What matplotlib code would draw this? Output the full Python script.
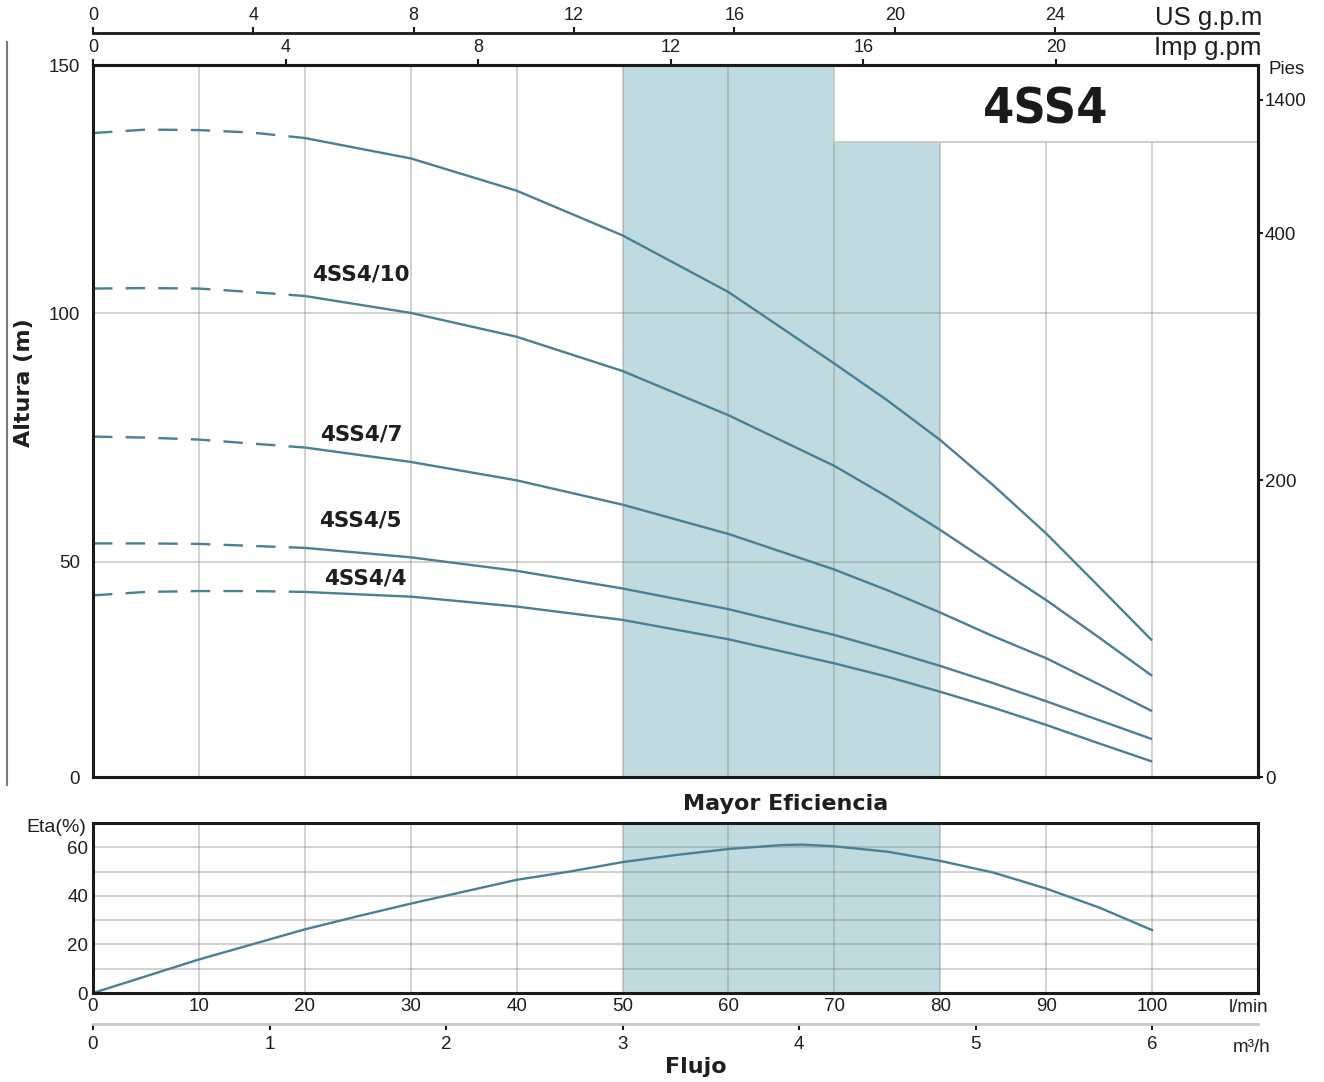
import numpy as np
import matplotlib
matplotlib.use('Agg')
import matplotlib.pyplot as plt
from matplotlib.patches import Rectangle
from matplotlib.lines import Line2D

plt.rcParams['font.family'] = ['Liberation Sans', 'DejaVu Sans']
plt.rcParams['lines.scale_dashes'] = False

# ---------------- data ----------------
flow = [0, 5, 10, 15, 20, 30, 40, 50, 60, 70, 75, 80, 85, 90, 95, 100]          # l/min
head_top = [136.3, 137.0, 136.9, 136.4, 135.3, 131.2, 124.7, 115.7, 104.3, 89.9, 82.5, 74.5, 65.4, 55.7, 44.2, 31.7]
head_10 = [105.0, 105.1, 105.0, 104.3, 103.5, 100.1, 95.3, 88.4, 79.5, 69.3, 63.1, 56.4, 49.2, 41.1, 32.4, 23.5]
head_7 = [75.2, 75.0, 74.6, 73.8, 73.0, 70.1, 66.4, 61.5, 55.6, 48.2, 43.4, 38.2, 32.7, 27.6, 21.5, 15.3]
head_5 = [53.7, 53.7, 53.6, 53.2, 52.8, 50.9, 47.9, 43.8, 39.0, 33.0, 29.5, 25.8, 21.8, 17.6, 13.2, 8.8]
head_4 = [42.2, 43.0, 43.2, 43.2, 43.0, 41.9, 39.6, 36.5, 32.0, 26.4, 23.3, 19.8, 16.1, 12.1, 7.8, 3.6]
curve_labels = ['', '4SS4/10', '4SS4/7', '4SS4/5', '4SS4/4']
dash_end_flow = 20

eff_flow = [0, 5, 10, 15, 20, 25, 30, 40, 45, 50, 55, 60, 65, 67, 70, 75, 80, 85, 90, 95, 100]
eff = [0, 6.9, 13.8, 20.0, 26.2, 31.6, 36.8, 46.6, 50.0, 53.9, 56.8, 59.3, 60.9, 61.1, 60.4,
       58.2, 54.4, 49.6, 43.0, 35.2, 25.9]

best_eff_range = (50, 80)
model_name = '4SS4'

lmin_ticks = [0, 10, 20, 30, 40, 50, 60, 70, 80, 90, 100]
m3h_ticks = [0, 1, 2, 3, 4, 5, 6]
us_gpm_ticks = [0, 4, 8, 12, 16, 20, 24]
imp_gpm_ticks = [0, 4, 8, 12, 16, 20]
head_ticks = [0, 50, 100, 150]
feet_tick_labels = ['0', '200', '400', '1400']
feet_tick_heads = [0, 66.4, 116.1, 143.0]   # positions of the feet labels on the head axis (m)
eta_ticks = [0, 20, 40, 60]

# ---------------- style ----------------
W, H = 1324, 1082
CURVE = '#4a7f94'
BAND = '#c0dbdf'
TXT = '#1e1e1e'
SPINE = '#1a1a1a'


def fx(px):
    return px / W


def fy(py):
    return 1 - py / H


# head axis: 0-50 m is drawn more compressed than 50-150 m in the reference
LOW_PX, HIGH_PX = 215.3, 248.5


def fwd(y):
    y = np.asarray(y, dtype=float)
    return np.where(y < 50, y * LOW_PX / 50, LOW_PX + (y - 50) * HIGH_PX / 50)


def inv(v):
    v = np.asarray(v, dtype=float)
    return np.where(v < LOW_PX, v * 50 / LOW_PX, 50 + (v - LOW_PX) * 50 / HIGH_PX)


fig = plt.figure(figsize=(W / 100, H / 100), dpi=100)

# ---------------- main head chart ----------------
ax = fig.add_axes([fx(93), fy(777), (1258 - 93) / W, (777 - 65) / H])
ax.set_yscale('function', functions=(fwd, inv))
ax.set_xlim(0, 110)
ax.set_ylim(0, 150)
ax.set_xticks(np.arange(0, 111, 10))
ax.set_yticks(head_ticks)
ax.set_yticklabels([str(t) for t in head_ticks])
ax.tick_params(axis='x', bottom=False, top=False, labelbottom=False, labeltop=False)
ax.tick_params(axis='y', length=0, pad=9.4, labelsize=13.5, labelcolor=TXT)
ax.set_axisbelow(False)
ax.grid(True, color='#808080', alpha=0.38, lw=1.3)
ax.axvspan(best_eff_range[0], best_eff_range[1], color=BAND, zorder=1, lw=0)
for sp in ax.spines.values():
    sp.set_linewidth(2.2)
    sp.set_color(SPINE)
    sp.set_zorder(6)

ax.add_patch(Rectangle((70, 134.4), 40, 15.6, facecolor='white', edgecolor='#c8c8c8',
                       lw=1.3, zorder=3))

fl = np.array(flow)
dash_mask = fl <= dash_end_flow
solid_mask = fl >= dash_end_flow
for heads in [head_top, head_10, head_7, head_5, head_4]:
    hd = np.array(heads)
    ax.plot(fl[dash_mask], hd[dash_mask], color=CURVE, lw=1.7, dashes=(14, 9.5), zorder=4)
    ax.plot(fl[solid_mask], hd[solid_mask], color=CURVE, lw=1.7, zorder=4,
            solid_capstyle='butt', solid_joinstyle='round')

label_pos = [None, (25.3, 107.9), (25.3, 75.6), (25.2, 58.4), (25.7, 46.1)]
for lab, pos in zip(curve_labels, label_pos):
    if lab:
        ax.text(pos[0], pos[1], lab, ha='center', va='center', fontsize=15.5,
                fontweight='bold', family='DejaVu Sans', color=TXT, zorder=5)

# right feet axis
ax2 = ax.twinx()
ax2.set_yscale('function', functions=(fwd, inv))
ax2.set_ylim(0, 150)
ax2.set_yticks(feet_tick_heads)
ax2.set_yticklabels(feet_tick_labels)
ax2.tick_params(axis='y', direction='out', length=3.6, width=1.5, pad=1.5,
                labelsize=13.5, labelcolor=TXT, color=SPINE)
for name, sp in ax2.spines.items():
    sp.set_visible(name == 'right')
ax2.spines['right'].set_linewidth(2.2)
ax2.spines['right'].set_color(SPINE)

# top flow axes
imp = ax.secondary_xaxis('top', functions=(lambda x: x / 4.546, lambda x: x * 4.546))
imp.set_xticks(imp_gpm_ticks)
imp.tick_params(direction='out', length=4.3, width=1.5, pad=2, labelsize=13,
                labelcolor=TXT, color=SPINE)
imp.spines['top'].set_linewidth(2.2)
imp.spines['top'].set_color(SPINE)

us = ax.secondary_xaxis(1 + 32 / 712, functions=(lambda x: x / 3.785, lambda x: x * 3.785))
us.set_xticks(us_gpm_ticks)
us.tick_params(direction='out', length=4.3, width=1.5, pad=2, labelsize=13,
               labelcolor=TXT, color=SPINE)
us.spines['top'].set_linewidth(2.0)
us.spines['top'].set_color(SPINE)

fig.text(fx(1262), fy(25), 'US g.p.m', ha='right', va='baseline', fontsize=18.5, color=TXT)
fig.text(fx(1262), fy(55), 'Imp g.pm', ha='right', va='baseline', fontsize=18.5, color=TXT)
fig.text(fx(1268), fy(70), 'Pies', ha='left', va='center', fontsize=13.5, color=TXT)
fig.text(fx(1046), fy(124), model_name, ha='center', va='baseline', fontsize=36,
         fontweight='bold', family='DejaVu Sans', fontstretch='condensed',
         color='#1a1a1a')
fig.text(fx(24), fy(383), 'Altura (m)', rotation=90, ha='center', va='center',
         fontsize=16, fontweight='bold', family='DejaVu Sans', color=TXT)

fig.add_artist(Line2D([fx(7), fx(7)], [fy(42), fy(785)], color='#7a7a7a', lw=1.5))

# ---------------- efficiency chart ----------------
ae = fig.add_axes([fx(93), fy(993), (1258 - 93) / W, (993 - 823) / H])
ae.set_xlim(0, 110)
ae.set_ylim(0, 70)
ae.axvspan(best_eff_range[0], best_eff_range[1], color=BAND, zorder=1, lw=0)
ae.set_xticks(lmin_ticks)
ae.set_xticklabels([str(t) for t in lmin_ticks])
ae.set_yticks(eta_ticks)
ae.set_yticklabels([str(t) for t in eta_ticks])
ae.set_yticks([10, 30, 50, 70], minor=True)
ae.tick_params(axis='both', which='both', length=0, labelsize=13.5, labelcolor=TXT)
ae.tick_params(axis='x', pad=3.5)
ae.tick_params(axis='y', pad=3.6)
ae.set_axisbelow(False)
ae.grid(True, axis='x', which='major', color='#808080', alpha=0.38, lw=1.3)
ae.grid(True, axis='y', which='both', color='#808080', alpha=0.38, lw=1.3)
for sp in ae.spines.values():
    sp.set_linewidth(2.2)
    sp.set_color(SPINE)
    sp.set_zorder(6)
ae.plot(eff_flow, eff, color=CURVE, lw=1.7, zorder=4, solid_joinstyle='round')

m3 = ae.secondary_xaxis(-31.3 / 170, functions=(lambda x: x * 0.06, lambda x: x / 0.06))
m3.set_xticks(m3h_ticks)
m3.tick_params(direction='out', length=4.5, width=1.5, pad=4, labelsize=13.5,
               labelcolor=TXT, color=SPINE)
m3.spines['bottom'].set_linewidth(2.0)
m3.spines['bottom'].set_color('#c8c8c8')

fig.text(fx(86), fy(828), 'Eta(%)', ha='right', va='center', fontsize=14, color=TXT)
fig.text(fx(786), fy(804), 'Mayor Eficiencia', ha='center', va='center', fontsize=16,
         fontweight='bold', family='DejaVu Sans', color=TXT)
fig.text(fx(1268), fy(1008), 'l/min', ha='right', va='center', fontsize=13.5, color=TXT)
fig.text(fx(1271), fy(1047), 'm³/h', ha='right', va='center', fontsize=13.5, color=TXT)
fig.text(fx(696), fy(1067), 'Flujo', ha='center', va='center', fontsize=16,
         fontweight='bold', family='DejaVu Sans', color=TXT)

fig.savefig('out.png', dpi=100)
